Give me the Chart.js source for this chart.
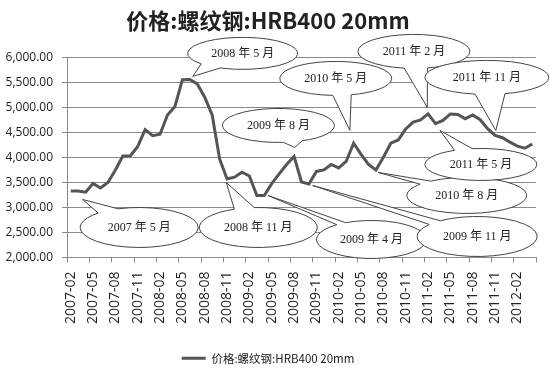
<!DOCTYPE html>
<html>
<head>
<meta charset="utf-8">
<script src="https://cdn.jsdelivr.net/npm/chart.js@4/dist/chart.umd.min.js"></script>
<style>
html,body{margin:0;padding:0;background:#fff;}
canvas{display:block;}
</style>
</head>
<body>
<canvas id="c" width="550" height="369"></canvas>
<script>
// ---- data ----
const months = [
 '2007-02','2007-03','2007-04','2007-05','2007-06','2007-07','2007-08','2007-09','2007-10','2007-11','2007-12',
 '2008-01','2008-02','2008-03','2008-04','2008-05','2008-06','2008-07','2008-08','2008-09','2008-10','2008-11','2008-12',
 '2009-01','2009-02','2009-03','2009-04','2009-05','2009-06','2009-07','2009-08','2009-09','2009-10','2009-11','2009-12',
 '2010-01','2010-02','2010-03','2010-04','2010-05','2010-06','2010-07','2010-08','2010-09','2010-10','2010-11','2010-12',
 '2011-01','2011-02','2011-03','2011-04','2011-05','2011-06','2011-07','2011-08','2011-09','2011-10','2011-11','2011-12',
 '2012-01','2012-02','2012-03','2012-04'
];
const prices = [
 3330,3330,3305,3480,3390,3500,3750,4030,4030,4220,4555,
 4435,4465,4850,5020,5555,5560,5470,5205,4850,3970,3570,3605,
 3705,3630,3240,3240,3475,3670,3860,4020,3510,3470,3720,3750,
 3860,3790,3920,4285,4060,3860,3750,4005,4285,4350,4570,4705,
 4750,4870,4675,4740,4870,4860,4775,4850,4755,4575,4440,4395,
 4305,4225,4185,4270
];
const seriesName = '价格:螺纹钢:HRB400 20mm';
const yTicks = [2000,2500,3000,3500,4000,4500,5000,5500,6000];

// callout notes: anchor in data space (category index, value)
const calloutTexts = ['2007 年 5 月','2008 年 5 月','2008 年 11 月','2009 年 4 月','2009 年 8 月','2009 年 11 月',
  '2010 年 5 月','2010 年 8 月','2011 年 2 月','2011 年 5 月','2011 年 11 月'];
const calloutGeom = [
  {c:[9.2,2600], rx:59, ry:20, tip:[1.6,3160], a:[226,249]},
  {c:[23.1,6080], rx:55, ry:16, tip:[16.4,5620], a:[114,139]},
  {c:[25.2,2600], rx:59, ry:20, tip:[20.9,3500], a:[246,266]},
  {c:[40.4,2360], rx:55, ry:19, tip:[26.5,3240], a:[231,242]},
  {c:[27.9,4640], rx:56, ry:17, tip:[30.1,4200], a:[65,85]},
  {c:[54.6,2420], rx:60, ry:20, tip:[32.5,3440], a:[217,232]},
  {c:[35.6,5580], rx:56, ry:17, tip:[37.5,4540], a:[74,93]},
  {c:[53.2,3240], rx:60, ry:18, tip:[41.3,3700], a:[219,233]},
  {c:[46.1,6120], rx:56, ry:17, tip:[47.9,5000], a:[76,100]},
  {c:[55.1,3860], rx:56, ry:16, tip:[49.6,4540], a:[242,261]},
  {c:[55.9,5600], rx:62, ry:17, tip:[57.1,4540], a:[73,101]}
];

const calloutPlugin = {
  id: 'callouts',
  afterDraw(chart) {
    const ctx = chart.ctx, xs = chart.scales.x, ys = chart.scales.y;
    ctx.save();
    calloutGeom.forEach((g, i) => {
      const cx = xs.getPixelForValue(g.c[0]), cy = ys.getPixelForValue(g.c[1]);
      const tx = xs.getPixelForValue(g.tip[0]), ty = ys.getPixelForValue(g.tip[1]);
      const t1 = g.a[0] * Math.PI / 180, t2 = g.a[1] * Math.PI / 180;
      ctx.beginPath();
      ctx.ellipse(cx, cy, g.rx, g.ry, 0, t2, t1 + 2 * Math.PI, false);
      ctx.lineTo(tx, ty);
      ctx.closePath();
      ctx.fillStyle = '#ffffff';
      ctx.fill();
      ctx.lineWidth = 1;
      ctx.strokeStyle = '#444444';
      ctx.stroke();
      ctx.fillStyle = '#222222';
      ctx.font = '12px "Liberation Serif", "Noto Sans CJK SC"';
      ctx.textAlign = 'center';
      ctx.textBaseline = 'middle';
      ctx.fillText(calloutTexts[i], cx, cy);
    });
    ctx.restore();
  }
};

const gridGray = '#8a8a8a';
const lineColor = '#555555';

new Chart(document.getElementById('c'), {
  type: 'line',
  data: {
    labels: months,
    datasets: [{
      label: seriesName,
      data: prices,
      borderColor: lineColor,
      backgroundColor: lineColor,
      borderWidth: 3,
      pointRadius: 0,
      tension: 0,
      fill: false
    }]
  },
  options: {
    responsive: false,
    animation: false,
    layout: { padding: { left: 0, right: 14, top: 0, bottom: -5 } },
    plugins: {
      title: {
        display: true,
        text: seriesName,
        color: '#222',
        font: { family: '"Noto Sans CJK SC"', size: 22, weight: 'bold' },
        padding: { top: 7, bottom: 24 }
      },
      legend: {
        display: true,
        position: 'bottom',
        labels: {
          boxWidth: 24,
          boxHeight: 3,
          padding: 4,
          color: '#222',
          font: { family: '"Noto Sans CJK SC"', size: 11.5 },
          generateLabels(chart) {
            return Chart.defaults.plugins.legend.labels.generateLabels(chart).map(it => {
              it.lineWidth = 0; it.fillStyle = lineColor; it.strokeStyle = lineColor; return it;
            });
          }
        }
      },
      tooltip: { enabled: false }
    },
    scales: {
      x: {
        type: 'category',
        offset: true,
        afterFit(s) { s.height = 91; s.paddingRight = 0; s.paddingLeft = 0; },
        grid: {
          offset: true,
          drawOnChartArea: false,
          drawTicks: true,
          tickLength: 5,
          color: ctx => (ctx.index === undefined || ctx.index % 3 === 0) ? gridGray : 'rgba(0,0,0,0)'
        },
        border: { display: true, color: gridGray, width: 1 },
        ticks: {
          autoSkip: false,
          maxRotation: 90,
          minRotation: 90,
          padding: 9,
          color: '#222',
          font: { family: '"Open Sans"', size: 14 },
          callback(v, i) { return i % 3 === 0 ? months[i] : ''; }
        }
      },
      y: {
        min: yTicks[0],
        max: yTicks[yTicks.length - 1],
        afterFit(s) { s.width = 67; },
        afterBuildTicks(s) { s.ticks = yTicks.map(v => ({ value: v })); },
        grid: { color: gridGray, tickLength: 5, drawTicks: true },
        border: { display: true, color: gridGray, width: 1 },
        ticks: {
          padding: 9,
          color: '#222',
          font: { family: '"Open Sans"', size: 12 },
          callback(v) { return v.toLocaleString('en-US', { minimumFractionDigits: 2, maximumFractionDigits: 2 }); }
        }
      }
    }
  },
  plugins: [calloutPlugin]
});
</script>
</body>
</html>
